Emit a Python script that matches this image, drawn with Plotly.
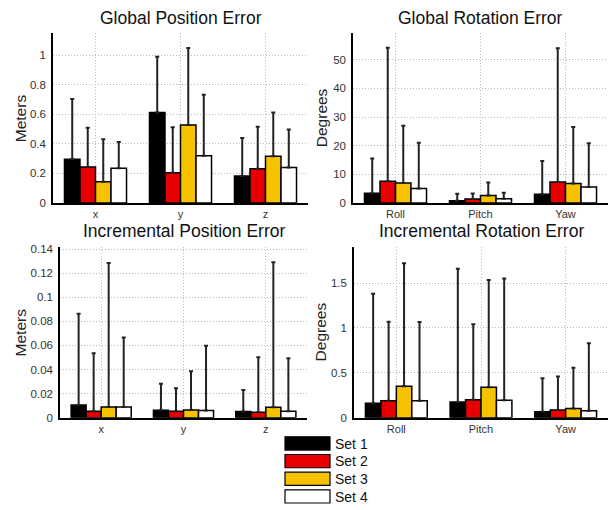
import plotly.graph_objects as go

W, H = 610, 510

set_names = ["Set 1", "Set 2", "Set 3", "Set 4"]
set_colors = ["#000000", "#e80000", "#f6c200", "#ffffff"]

pos_cats = ["x", "y", "z"]
rot_cats = ["Roll", "Pitch", "Yaw"]

# Global Position Error (meters): bar heights and top of error whiskers
gp_mean = [[0.295, 0.611, 0.182], [0.244, 0.204, 0.231], [0.143, 0.527, 0.316], [0.235, 0.319, 0.240]]
gp_top = [[0.703, 0.989, 0.440], [0.508, 0.512, 0.516], [0.431, 1.048, 0.611], [0.413, 0.732, 0.497]]

# Global Rotation Error (degrees)
gr_mean = [[3.4, 0.8, 3.1], [7.6, 1.4, 7.3], [7.0, 2.6, 6.8], [5.1, 1.5, 5.6]]
gr_top = [[15.5, 3.2, 14.7], [54.2, 3.3, 54.0], [27.0, 7.2, 26.5], [21.0, 3.6, 20.9]]

# Incremental Position Error (meters)
ip_mean = [[0.0106, 0.0062, 0.0051], [0.0054, 0.0054, 0.0046], [0.0089, 0.0065, 0.0087], [0.0089, 0.0060, 0.0054]]
ip_top = [[0.0864, 0.0282, 0.0230], [0.0536, 0.0244, 0.0501], [0.1284, 0.0385, 0.1290], [0.0666, 0.0598, 0.0493]]

# Incremental Rotation Error (degrees)
ir_mean = [[0.160, 0.175, 0.066], [0.190, 0.200, 0.085], [0.350, 0.340, 0.103], [0.190, 0.196, 0.077]]
ir_top = [[1.380, 1.660, 0.440], [1.070, 1.040, 0.460], [1.720, 1.535, 0.557], [1.065, 1.550, 0.830]]

panels = [
    dict(title="Global Position Error", ylabel="Meters", cats=pos_cats, mean=gp_mean, top=gp_top,
         xpx=(53, 308), ypx=(30, 203), yrange=[0, 1.146], tickvals=[0, 0.2, 0.4, 0.6, 0.8, 1],
         ticktext=["0", "0.2", "0.4", "0.6", "0.8", "1"], title_y=14, ylab_x=20),
    dict(title="Global Rotation Error", ylabel="Degrees", cats=rot_cats, mean=gr_mean, top=gr_top,
         xpx=(353, 608), ypx=(30, 203), yrange=[0, 59.2], tickvals=[0, 10, 20, 30, 40, 50],
         ticktext=["0", "10", "20", "30", "40", "50"], title_y=14, ylab_x=321),
    dict(title="Incremental Position Error", ylabel="Meters", cats=pos_cats, mean=ip_mean, top=ip_top,
         xpx=(60, 307), ypx=(248, 422), yrange=[0, 0.1416],
         tickvals=[0, 0.02, 0.04, 0.06, 0.08, 0.1, 0.12, 0.14],
         ticktext=["0", "0.02", "0.04", "0.06", "0.08", "0.1", "0.12", "0.14"], title_y=232, ylab_x=20),
    dict(title="Incremental Rotation Error", ylabel="Degrees", cats=rot_cats, mean=ir_mean, top=ir_top,
         xpx=(354, 608), ypx=(248, 422), yrange=[0, 1.9], tickvals=[0, 0.5, 1, 1.5],
         ticktext=["0", "0.5", "1", "1.5"], title_y=232, ylab_x=320),
]

FONT = "Arial, Liberation Sans, sans-serif"
GRID = dict(showgrid=True, gridcolor="#b8b8b8", griddash="1px,2px", gridwidth=1)
fig = go.Figure()
annotations = []
shapes = []

for i, p in enumerate(panels):
    n = "" if i == 0 else str(i + 1)
    xa, ya = "x" + n, "y" + n
    for s in range(4):
        errs = [t - m for t, m in zip(p["top"][s], p["mean"][s])]
        fig.add_trace(go.Bar(
            x=p["cats"], y=p["mean"][s], name=set_names[s], showlegend=False,
            marker=dict(color=set_colors[s], line=dict(color="#000000", width=1.5)),
            error_y=dict(type="data", symmetric=False, array=errs, arrayminus=[0] * len(errs),
                         color="#222222", thickness=2, width=2),
            xaxis=xa, yaxis=ya, offsetgroup=str(s),
        ))
    x0, x1 = p["xpx"]
    y0, y1 = p["ypx"]
    fig.layout["xaxis" + n] = dict(
        domain=[x0 / W, x1 / W], anchor=ya, type="category", range=[-0.5, 2.5],
        showline=True, linecolor="#000000", linewidth=1.5, ticks="", zeroline=False,
        tickfont=dict(family=FONT, size=11, color="#333333"), fixedrange=True, **GRID,
    )
    fig.layout["yaxis" + n] = dict(
        domain=[1 - y1 / H, 1 - y0 / H], anchor=xa, range=p["yrange"],
        tickvals=p["tickvals"], ticktext=p["ticktext"],
        showline=True, linecolor="#000000", linewidth=1.5, ticks="outside", ticklen=3,
        tickcolor="rgba(0,0,0,0)", zeroline=False,
        tickfont=dict(family=FONT, size=11.5, color="#333333"), fixedrange=True, **GRID,
    )
    annotations.append(dict(
        text=p["title"], x=((x0 + x1) / 2) / W, y=1 - p["title_y"] / H, xref="paper", yref="paper",
        xanchor="center", yanchor="middle", showarrow=False,
        font=dict(family=FONT, size=17.5, color="#111111"),
    ))
    annotations.append(dict(
        text=p["ylabel"], x=p["ylab_x"] / W, y=1 - ((y0 + y1) / 2) / H, xref="paper", yref="paper",
        xanchor="center", yanchor="middle", showarrow=False, textangle=-90,
        font=dict(family=FONT, size=15.5, color="#222222"),
    ))

# custom legend with wide swatches
for s in range(4):
    top_px = 441.5 + 18 * s
    shapes.append(dict(
        type="rect", xref="paper", yref="paper",
        x0=285 / W, x1=330 / W, y0=1 - (top_px + 13.5) / H, y1=1 - top_px / H,
        fillcolor=set_colors[s], line=dict(color="#000000", width=1.2),
    ))
    annotations.append(dict(
        text=set_names[s], x=333 / W, y=1 - (top_px + 7) / H, xref="paper", yref="paper",
        xanchor="left", yanchor="middle", showarrow=False,
        font=dict(family=FONT, size=14, color="#111111"),
    ))

fig.update_layout(
    width=W, height=H, margin=dict(l=0, r=0, t=0, b=0),
    paper_bgcolor="#ffffff", plot_bgcolor="#ffffff",
    barmode="group", bargap=0.27, bargroupgap=0,
    annotations=annotations, shapes=shapes, showlegend=False,
)

fig.write_html("out.html")
